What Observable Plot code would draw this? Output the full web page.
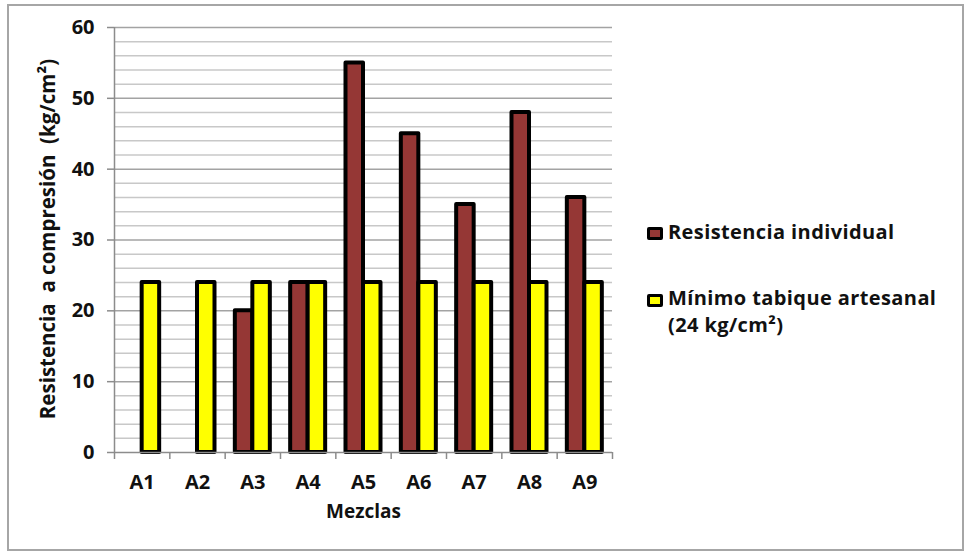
<!DOCTYPE html>
<html><head><meta charset="utf-8">
<script src="https://cdn.jsdelivr.net/npm/d3@7"></script>
<script src="https://cdn.jsdelivr.net/npm/@observablehq/plot@0.6"></script>
<style>
body{margin:0;background:#fff;}
#wrap{position:relative;width:969px;height:554px;font-family:"Open Sans",sans-serif;color:#111;}
#frame{position:absolute;left:7px;top:4px;width:957px;height:547px;box-sizing:border-box;border:2px solid #a6a6a6;pointer-events:none}
.sw{position:absolute;left:647px;width:16px;height:13px;box-sizing:border-box;border:3px solid #000;border-radius:2px}
.lt{position:absolute;left:668px;font-weight:bold;font-size:20px;letter-spacing:0.4px;line-height:27px;white-space:nowrap}
</style></head>
<body>
<div id="wrap">
  <div id="chart"></div>
  <div id="frame"></div>
  <div class="sw" id="sw0" style="top:227px"></div>
  <div class="lt" id="lt0" style="top:218px"></div>
  <div class="sw" id="sw1" style="top:294px"></div>
  <div class="lt" id="lt1" style="top:284px"></div>
</div>
<script>
const categories = ["A1","A2","A3","A4","A5","A6","A7","A8","A9"];
const resistencia = [0, 0, 20, 24, 55, 45, 35, 48, 36];
const minimo = [24, 24, 24, 24, 24, 24, 24, 24, 24];
const seriesNames = ["Resistencia individual", "Mínimo tabique artesanal<br>(24 kg/cm²)"];
const seriesColors = ["#953735", "#ffff00"];
const yTicks = [0, 10, 20, 30, 40, 50, 60];
const yTitle = "Resistencia  a compresión  (kg/cm²)";
const xTitle = "Mezclas";

const barW = 17.5 / 55.33;
const gap = (1 - 2 * barW) / 2;
const series0 = categories.map((c, i) => ({i, v: resistencia[i]})).filter(d => d.v > 0);
const series1 = categories.map((c, i) => ({i, v: minimo[i]})).filter(d => d.v > 0);

const minor = d3.range(2, 61, 2).filter(v => v % 10 !== 0);
const major = yTicks.filter(v => v > 0);

const chart = Plot.plot({
  width: 969, height: 554,
  marginLeft: 114, marginRight: 357, marginTop: 27, marginBottom: 102,
  style: {fontFamily: "Open Sans, sans-serif", color: "#111", background: "transparent"},
  x: {type: "linear", domain: [0, categories.length], axis: null},
  y: {domain: [0, 60], axis: null},
  marks: [
    Plot.ruleY(minor, {stroke: "#c8c8c8", strokeWidth: 1.5}),
    Plot.ruleY(major, {stroke: "#a3a3a3", strokeWidth: 1.5}),
    Plot.rectY(series0, {x1: d => d.i + gap, x2: d => d.i + gap + barW, y1: 0, y2: "v", fill: seriesColors[0], stroke: "#000", strokeWidth: 4, strokeLinejoin: "round"}),
    Plot.rectY(series1, {x1: d => d.i + gap + barW, x2: d => d.i + gap + 2 * barW, y1: 0, y2: "v", fill: seriesColors[1], stroke: "#000", strokeWidth: 4, strokeLinejoin: "round"}),
    Plot.ruleX([0], {stroke: "#8c8c8c", strokeWidth: 1.5}),
    Plot.ruleY([0], {stroke: "#8c8c8c", strokeWidth: 1.5}),
    Plot.axisY({ticks: yTicks, tickSize: 7, tickPadding: 13, fontSize: 20, fontWeight: "bold", label: null, stroke: "#8c8c8c", strokeWidth: 1.5}),
    Plot.axisX({ticks: d3.range(0, categories.length + 1), tickFormat: () => "", tickSize: 7, label: null, stroke: "#8c8c8c", strokeWidth: 1.5}),
    Plot.text(categories, {x: (d, i) => i + 0.5, frameAnchor: "bottom", lineAnchor: "middle", dy: 30, text: d => d, fontSize: 20, fontWeight: "bold"}),
    Plot.text([xTitle], {frameAnchor: "bottom", lineAnchor: "middle", dy: 59, text: d => d, fontSize: 19, fontWeight: "bold"}),
    Plot.text([yTitle], {frameAnchor: "left", textAnchor: "middle", lineAnchor: "middle", dx: -66, dy: -1, rotate: -90, text: d => d, fontSize: 20.5, fontWeight: "bold"})
  ]
});
document.getElementById("chart").appendChild(chart);
seriesNames.forEach((n, k) => {
  document.getElementById("sw" + k).style.background = seriesColors[k];
  document.getElementById("lt" + k).innerHTML = n;
});
</script>
</body></html>
